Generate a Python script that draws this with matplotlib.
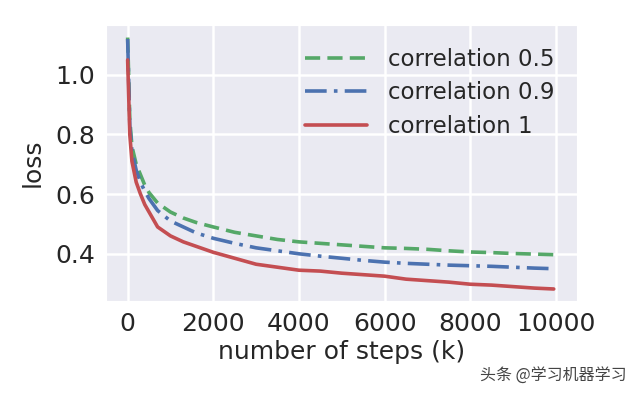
import matplotlib
matplotlib.use("Agg")
import matplotlib.pyplot as plt
import seaborn as sns

# values
steps = [0, 50, 100, 200, 300, 400, 500, 700, 1000, 1300, 1600, 2000, 2500, 3000,
         3500, 4000, 4500, 5000, 5500, 6000, 6500, 7000, 7500, 8000, 8500, 9000, 9500, 9950]
corr_05 = [1.125, 0.85, 0.76, 0.70, 0.665, 0.63, 0.605, 0.57, 0.54, 0.52, 0.505, 0.49, 0.472, 0.46,
           0.448, 0.44, 0.435, 0.43, 0.425, 0.42, 0.418, 0.415, 0.41, 0.406, 0.404, 0.401, 0.399, 0.397]
corr_09 = [1.12, 0.83, 0.745, 0.68, 0.64, 0.61, 0.585, 0.545, 0.51, 0.49, 0.47, 0.452, 0.435, 0.42,
           0.41, 0.40, 0.392, 0.385, 0.378, 0.372, 0.368, 0.365, 0.362, 0.36, 0.358, 0.355, 0.352, 0.35]
corr_1 = [1.05, 0.80, 0.71, 0.64, 0.60, 0.565, 0.54, 0.49, 0.46, 0.44, 0.425, 0.405, 0.385, 0.365,
          0.355, 0.345, 0.342, 0.335, 0.33, 0.325, 0.315, 0.31, 0.305, 0.298, 0.295, 0.29, 0.285, 0.282]
labels = ["correlation 0.5", "correlation 0.9", "correlation 1"]

sns.set_style("darkgrid")
plt.rcParams['font.family'] = ['DejaVu Sans', 'Noto Sans CJK SC']

fig = plt.figure(figsize=(6.4, 3.97), dpi=100)
ax = fig.add_axes([0.166, 0.242, 0.736, 0.695])

lw = 2.6
ax.plot(steps, corr_05, color='#55A868', lw=lw, dashes=(4.2, 2.0), label=labels[0])
ax.plot(steps, corr_09, color='#4C72B0', lw=lw, dashes=(6.0, 2.0, 1.0, 2.0), label=labels[1])
ax.plot(steps, corr_1, '-', color='#C44E52', lw=lw, label=labels[2])

ax.set_xlim(-500, 10500)
ax.set_ylim(0.242, 1.167)
ax.set_xticks([0, 2000, 4000, 6000, 8000, 10000])
ax.set_yticks([0.4, 0.6, 0.8, 1.0])
ax.tick_params(labelsize=18, colors='#262626', length=0, pad=8)
ax.grid(color='white', lw=1.8)
ax.set_xlabel('number of steps (k)', fontsize=18, color='#262626', labelpad=3)
ax.set_ylabel('loss', fontsize=18, color='#262626', labelpad=8)

ax.legend(loc='upper right', frameon=False, fontsize=16.5, handlelength=2.7,
          handletextpad=0.9, borderaxespad=0.6, labelspacing=0.45)

fig.text(0.75, 0.04, '头条 @学习机器学习', fontsize=11.5, color='#444444',
         family=['Noto Sans CJK SC', 'DejaVu Sans'])

fig.savefig('out.png', dpi=100)
